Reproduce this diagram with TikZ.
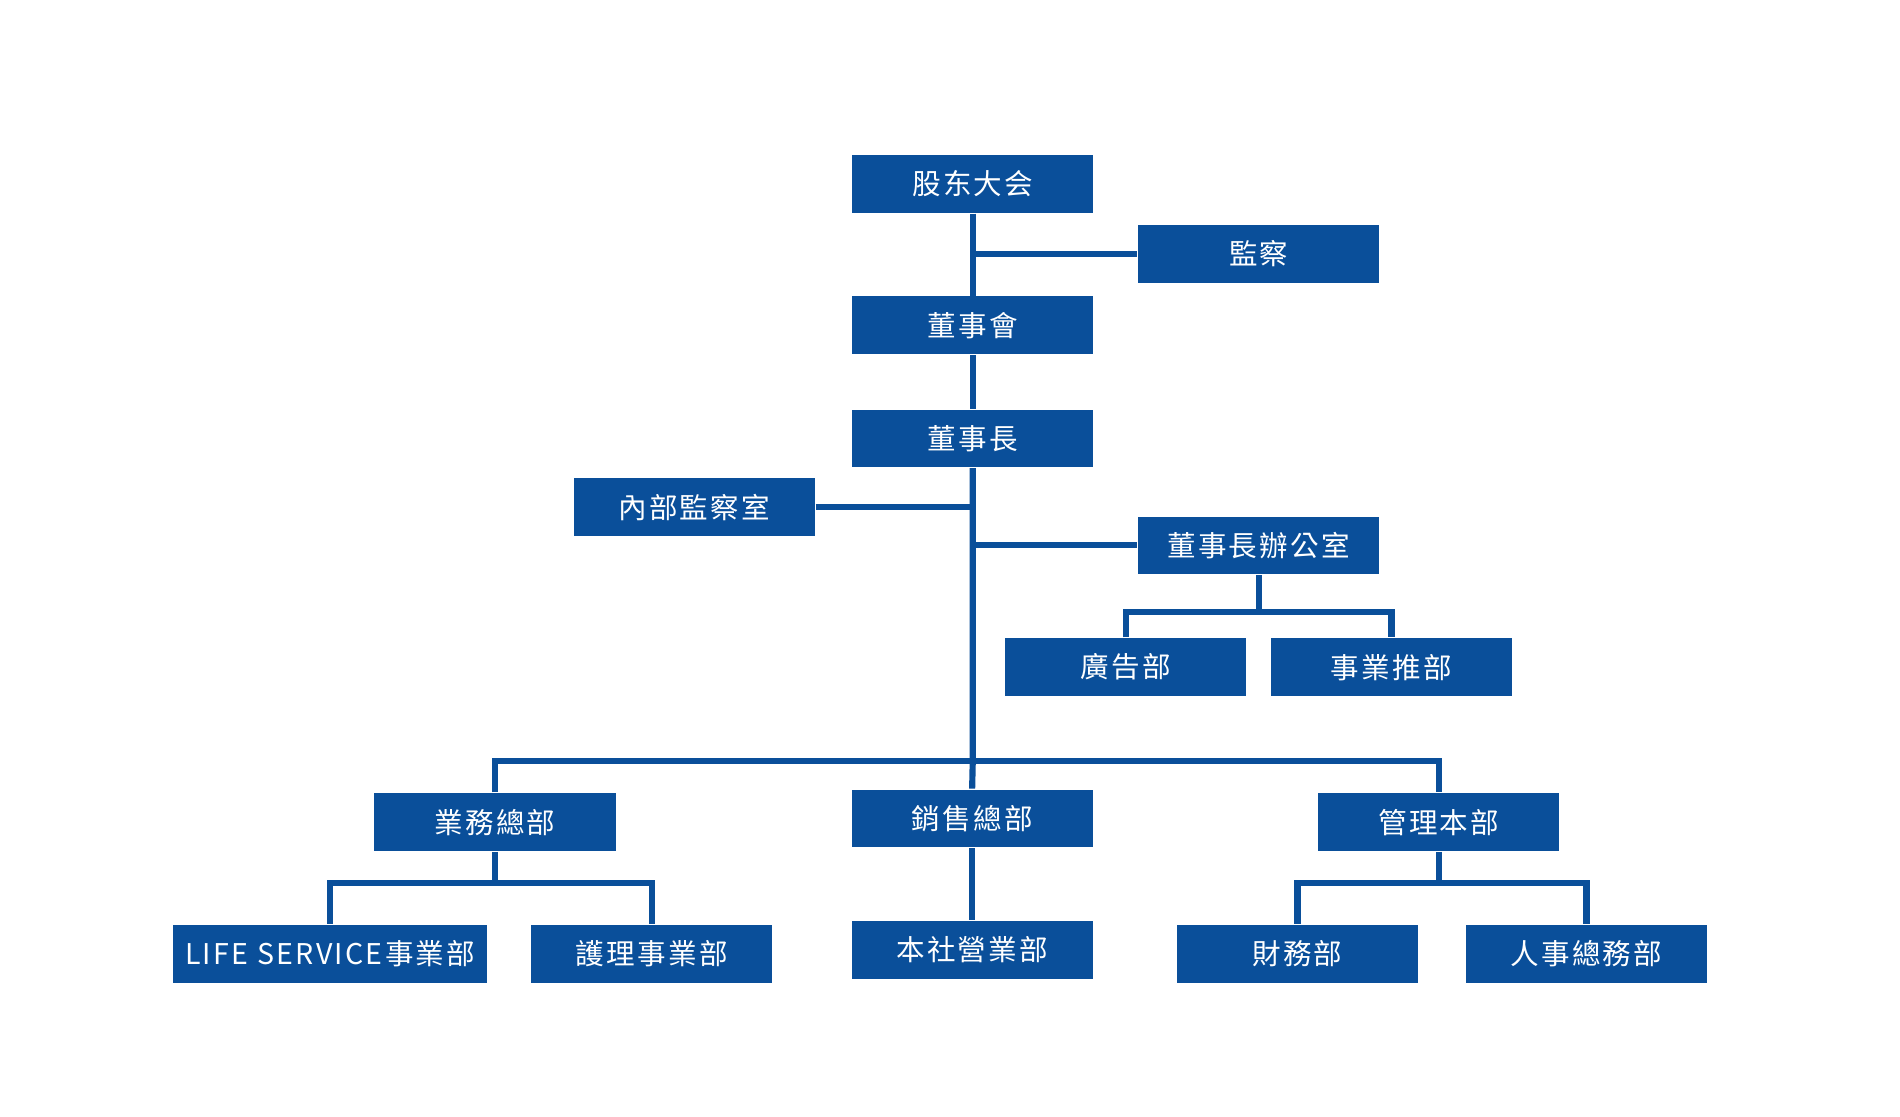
\documentclass[tikz,border=0pt]{standalone}
\usepackage{fontspec}
\newfontfamily\cjk[LetterSpace=8]{Noto Sans CJK TC}
\definecolor{bl}{HTML}{0A4F9A}
\begin{document}
\begin{tikzpicture}[x=0.01cm,y=-0.01cm,
  box/.style={fill=bl,text=white,minimum width=1.96cm,minimum height=0.47cm,inner sep=0pt,font=\cjk\fontsize{6.6}{8}\selectfont},
  ln/.style={draw=bl,line width=0.05cm}]
\useasboundingbox (0,0) rectangle (1545,908);
\node[box] (gd) at (791,149.5) {股东大会};
\node[box] (jc) at (1023.5,206.5) {監察};
\node[box] (dsh) at (791,264.5) {董事會};
\node[box] (dsz) at (791,356.5) {董事長};
\node[box] (nb) at (564.5,412.5) {內部監察室};
\node[box] (bgs) at (1023.5,443.5) {董事長辦公室};
\node[box] (gg) at (915.5,542.5) {廣告部};
\node[box] (sy) at (1131.5,542.5) {事業推部};
\node[box] (yw) at (402.5,668.5) {業務總部};
\node[box] (xs) at (790.5,665.5) {銷售總部};
\node[box] (gl) at (1170,668.5) {管理本部};
\node[box,minimum width=2.55cm] (life) at (268.5,775.5) {LIFE SERVICE事業部};
\node[box] (hl) at (530,775.5) {護理事業部};
\node[box] (bs) at (790.5,772.5) {本社營業部};
\node[box] (cw) at (1055,775.5) {財務部};
\node[box] (rs) at (1290,775.5) {人事總務部};
\coordinate (bar) at (791,619);
\draw[ln] (gd.south) -- (dsh.north);
\draw[ln] (gd.south |- jc.west) -- (jc.west);
\draw[ln] (dsh.south) -- (dsz.north);
\draw[ln] (dsz.south) -- (bar) -- (xs.north);
\draw[ln] (nb.east) -- (dsz.south |- nb.east);
\draw[ln] (dsz.south |- bgs.west) -- (bgs.west);
\draw[ln] (yw.north) |- (bar) -| (gl.north);
\draw[ln] (bgs.south) -- ++(0,30) coordinate (b2);
\draw[ln] (gg.north) |- (b2) -| (sy.north);
\draw[ln] (yw.south) -- ++(0,25) coordinate (b3);
\draw[ln] (life.north) |- (b3) -| (hl.north);
\draw[ln] (gl.south) -- ++(0,25) coordinate (b4);
\draw[ln] (cw.north) |- (b4) -| (rs.north);
\draw[ln] (xs.south) -- (bs.north);
\end{tikzpicture}
\end{document}
